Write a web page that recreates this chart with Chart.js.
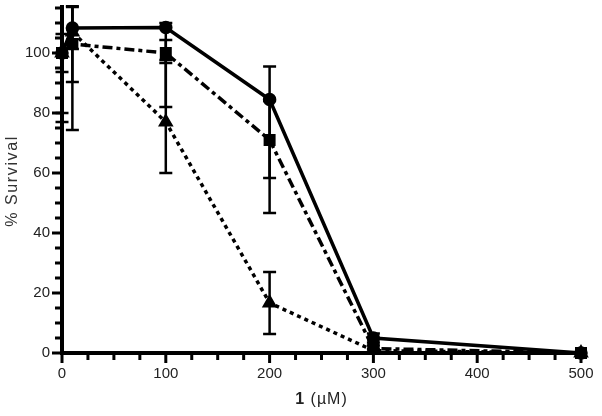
<!DOCTYPE html>
<html>
<head>
<meta charset="utf-8">
<script src="https://cdn.jsdelivr.net/npm/chart.js@4.4.1/dist/chart.umd.min.js"></script>
<style>
html,body{margin:0;padding:0;background:#fff;}
#wrap{width:602px;height:416px;position:relative;}
</style>
</head>
<body>
<div id="wrap"><canvas id="c" width="602" height="416"></canvas></div>
<script>
// ---- data ----
const doses = [0, 10, 100, 200, 300, 500];
const survivalA = [100, 108.3, 108.5, 84.5, 5, 0];
const survivalB = [100, 103, 100, 71, 1.5, 0];
const survivalC = [100, 107, 77, 16.7, 0.8, 0];
const errLowA  = [93.7, 101.3, 82, 58.3, 3.5, 0];
const errHighA = [106.3, 115.3, 110, 95.5, 6.5, 0];
const errLowB  = [80, 90.3, 96.7, 46.7, 0.5, 0];
const errHighB = [120, 115.7, 104.3, 84, 2.5, 0];
const errLowC  = [77, 74.3, 60, 6.3, 0.2, 0];
const errHighC = [123, 139.7, 97.7, 27, 1.4, 0];
const yTickLabels = [0, 20, 40, 60, 80, 100];
const xTickLabels = [0, 100, 200, 300, 400, 500];
const yTitle = '% Survival';
const xTitleBold = '1';
const xTitleRest = ' (µM)';

const errSets = [[errLowA, errHighA], [errLowB, errHighB], [errLowC, errHighC]];

function pts(vals){ return doses.map((d,i)=>({x:d, y:vals[i]})); }

const FONT = '"Liberation Sans", Arial, sans-serif';
const TXT = '#222';

const plugin = {
  id: 'extras',
  beforeDatasetsDraw(chart){
    const ctx = chart.ctx, xs = chart.scales.x, ys = chart.scales.y, ca = chart.chartArea;
    ctx.save();
    ctx.beginPath();
    ctx.rect(0, ca.top, chart.width, chart.height - ca.top);
    ctx.clip();
    ctx.strokeStyle = '#000';
    ctx.lineWidth = 2.5;
    errSets.forEach(([lo, hi]) => {
      doses.forEach((d, i) => {
        if (hi[i] - lo[i] <= 0) return;
        const x = xs.getPixelForValue(d);
        const y1 = ys.getPixelForValue(lo[i]);
        const y2 = ys.getPixelForValue(hi[i]);
        ctx.beginPath();
        ctx.moveTo(x, y1); ctx.lineTo(x, y2);
        ctx.moveTo(x-6.5, y1); ctx.lineTo(x+6.5, y1);
        ctx.moveTo(x-6.5, y2); ctx.lineTo(x+6.5, y2);
        ctx.stroke();
      });
    });
    ctx.restore();
  },
  afterDatasetsDraw(chart){
    const ctx = chart.ctx, xs = chart.scales.x, ys = chart.scales.y, ca = chart.chartArea;
    ctx.save();
    ctx.strokeStyle = '#000';
    ctx.fillStyle = '#000';
    // axis lines
    ctx.lineWidth = 4;
    ctx.beginPath();
    ctx.moveTo(ca.left, ca.top); ctx.lineTo(ca.left, ca.bottom + 2);
    ctx.moveTo(ca.left - 2, ca.bottom); ctx.lineTo(ca.right + 2, ca.bottom);
    ctx.stroke();
    // ticks
    ctx.lineWidth = 3;
    for (let v = 0; v <= ys.max + 0.01; v += 5) {
      const y = ys.getPixelForValue(v);
      const len = (v % 20 === 0) ? 8 : 5;
      ctx.beginPath(); ctx.moveTo(ca.left - len - 2, y); ctx.lineTo(ca.left, y); ctx.stroke();
    }
    for (let v = 0; v <= xs.max + 0.01; v += 25) {
      const x = xs.getPixelForValue(v);
      const len = (v % 100 === 0) ? 8 : 5;
      ctx.beginPath(); ctx.moveTo(x, ca.bottom); ctx.lineTo(x, ca.bottom + len + 2); ctx.stroke();
    }
    // x title with bold "1"
    const cx = (ca.left + ca.right) / 2;
    ctx.textBaseline = 'middle';
    ctx.fillStyle = TXT;
    try { ctx.letterSpacing = '1px'; } catch(e) {}
    ctx.font = 'bold 16px ' + FONT;
    const w1 = ctx.measureText(xTitleBold).width;
    ctx.font = '16px ' + FONT;
    const w2 = ctx.measureText(xTitleRest).width;
    const x0 = cx - (w1 + w2) / 2;
    ctx.textAlign = 'left';
    ctx.font = 'bold 16px ' + FONT;
    ctx.fillText(xTitleBold, x0, 400);
    ctx.font = '16px ' + FONT;
    ctx.fillText(xTitleRest, x0 + w1, 400);
    // y title
    ctx.save();
    try { ctx.letterSpacing = '1.6px'; } catch(e) {}
    ctx.translate(13, 181);
    ctx.rotate(-Math.PI / 2);
    ctx.textAlign = 'center';
    ctx.textBaseline = 'middle';
    ctx.font = '16px ' + FONT;
    ctx.fillStyle = '#333';
    ctx.fillText(yTitle, 0, 0);
    ctx.restore();
    ctx.restore();
  }
};

new Chart(document.getElementById('c'), {
  type: 'line',
  data: {
    datasets: [
      { label: 'A', data: pts(survivalA), borderColor: '#000', backgroundColor: '#000',
        borderWidth: 3.5, pointStyle: 'circle', pointRadius: 5, clip: false, tension: 0 },
      { label: 'B', data: pts(survivalB), borderColor: '#000', backgroundColor: '#000',
        borderWidth: 3.5, borderDash: [10, 4, 4, 4], pointStyle: 'rect', pointRadius: 6, clip: false, tension: 0 },
      { label: 'C', data: pts(survivalC), borderColor: '#000', backgroundColor: '#000',
        borderWidth: 3.5, borderDash: [4, 4], pointStyle: 'triangle', pointRadius: 5.5, clip: false, tension: 0 }
    ]
  },
  options: {
    responsive: false,
    animation: false,
    layout: { autoPadding: false, padding: { left: 0, right: 21, top: 5, bottom: 0 } },
    plugins: { legend: { display: false }, tooltip: { enabled: false } },
    scales: {
      x: {
        type: 'linear', min: 0, max: 500,
        grid: { display: false, drawTicks: false },
        border: { display: false },
        afterFit(s){ s.height = 63; s.paddingLeft = 0; s.paddingRight = 0; },
        ticks: {
          stepSize: 100, autoSkip: false, padding: 12, maxRotation: 0,
          color: TXT, font: { family: FONT, size: 15 },
          callback: v => xTickLabels.includes(v) ? String(v) : ''
        }
      },
      y: {
        type: 'linear', min: 0, max: 116,
        grid: { display: false, drawTicks: false },
        border: { display: false },
        afterFit(s){ s.width = 62; s.paddingTop = 0; s.paddingBottom = 0; },
        ticks: {
          stepSize: 20, autoSkip: false, padding: 12,
          color: TXT, font: { family: FONT, size: 15 },
          callback: v => yTickLabels.includes(v) ? String(v) : ''
        }
      }
    }
  },
  plugins: [plugin]
});
</script>
</body>
</html>
